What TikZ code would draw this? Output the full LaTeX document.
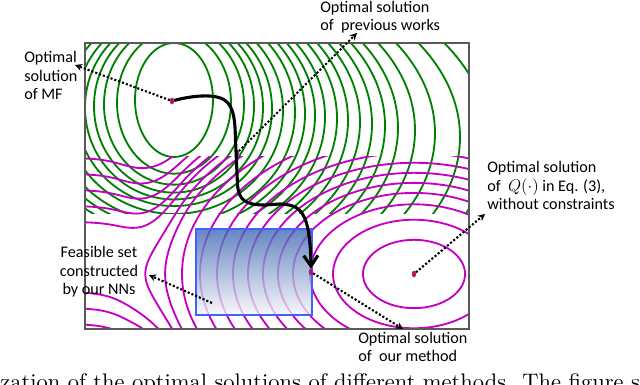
\documentclass[tikz,border=0pt]{standalone}
\usepackage{amsmath, amssymb}
\usepackage{fontspec}
\newfontfamily\calfont{Carlito}
\newfontfamily\capfont{lmroman10-regular.otf}
\usetikzlibrary{arrows.meta, positioning, shapes.geometric}
\definecolor{contgreen}{RGB}{0,128,0}
\definecolor{contmag}{RGB}{196,0,196}
\definecolor{setblue}{RGB}{64,96,255}
\definecolor{settop}{RGB}{60,100,180}
\definecolor{setbot}{RGB}{246,246,246}
\tikzstyle{note} = [font=\calfont\fontsize{11.5}{13.5}\selectfont, align=left, inner sep=0pt]
\tikzstyle{optpt} = [ellipse, draw=blue!70, fill=red, line width=0.4pt, inner sep=0pt, minimum width=2.8pt, minimum height=4.4pt]
\tikzstyle{pointer} = [line width=1.5pt, dash pattern=on 1.5pt off 1.4pt, -{Stealth[length=5pt, width=5pt]}]
\tikzstyle{route} = [line width=2.2pt, -{Straight Barb[length=2.6mm, width=3.6mm]}]
\tikzstyle{greenc} = [contgreen, line width=1.3pt]
\tikzstyle{magc} = [contmag, line width=1.3pt]

\begin{document}
\begin{tikzpicture}[x=0.25cm, y=0.25cm,
	declare function={
		phim(\d) = (\d < 23) ? \d*\d : 529 + 138*tanh((\d-23)/3);
		dinv(\p) = (\p < 529) ? sqrt(abs(\p)) : 23 + 1.5*ln((1 + max(\p-529,0)/138)/(1 - max(\p-529,0)/138));
		ycen(\x) = 11.1 + 1.7/(1 + exp(min((\x-12.5)/1.2, 9)));
	}]
		
		\useasboundingbox (0,0) rectangle (64,38.5);
		
		% contours of the MF objective
		\begin{scope}
			\clip (8.5,17.1) rectangle (46.9,34.2);
			\foreach \r in {3.9,5.7,7.0,8.0,8.9,9.8,10.9,12.1,13.1,14.1,15.1,16.3,17.4,18.6,19.8,21.1,22.4,24.1,26.1,28.6,31.5}
				\draw[greenc] (17.4,{28.5-0.15*(\r-3.9)}) ellipse ({\r} and {5.7*(\r/3.9)^0.58});
		\end{scope}
		
		% contours of Q
		\begin{scope}
			\clip (8.5,5.6) rectangle (46.9,22.8);
			\foreach \r in {5.1,8.1,10.4,12.1,13.6,15.1,16.6,18.1,19.7,21.4,23.2,24.62,25.45}
				\draw[magc] plot[domain=0:360, samples=145, smooth, variable=\t]
					({41.4-((cos(\t) < 0) ? -1 : 1)*dinv(\r*\r*cos(\t)*cos(\t))}, {11.1+0.67*\r*sin(\t)});
			\foreach \L in {694.3,724.9,767,820.5,885.3}
				\draw[magc] plot[domain=8.5:46.9, samples=90, smooth]
					(\x, {ycen(\x)+0.67*sqrt(\L-phim(41.4-\x))});
			\foreach \L in {694.3,724.9,767}
				\draw[magc] plot[domain=8.5:46.9, samples=90, smooth]
					(\x, {ycen(\x)-0.67*sqrt(\L-phim(41.4-\x))});
		\end{scope}
		
		% feasible set
		\shade[top color=settop, bottom color=setbot, fill opacity=0.78] (19.6,7.0) rectangle (31.2,15.6);
		\draw[setblue, line width=1.4pt] (19.6,7.0) rectangle (31.2,15.6);
		
		\draw[black!65, line width=1pt] (8.5,5.6) rectangle (46.9,34.2);
		
		\node[optpt] (mf) at (17.2,28.4) {};
		\node[optpt] (prev) at (23.7,23.2) {};
		\node[optpt] (ours) at (31.1,11.3) {};
		\node[optpt] (qopt) at (41.4,11.1) {};
		\coordinate (fs) at (21.2,8.2);
		
		\draw[route] (mf) .. controls (19.5,29.0) and (22.0,29.2) .. (22.8,28.2)
			.. controls (23.4,27.4) and (23.5,26.5) .. (23.55,24.5) -- (23.75,20.0)
			.. controls (23.9,18.5) and (24.5,18.0) .. (26.5,18.0) -- (28.0,18.1)
			.. controls (30.0,18.0) and (31.0,17.5) .. (ours.north);
		
		\node[note, anchor=base west] (mfnote) at (2.4,28.5) {Optimal\\solution\\of MF};
		\node[note, anchor=base west] (prevnote) at (32.0,35.4) {Optimal solution\\of\ \ previous works};
		\node[note, anchor=base west] (qnote) at (48.7,17.5) {Optimal solution\\of\ \ $Q(\cdot)$ in Eq. (3),\\without constraints};
		\node[note, anchor=base, align=center] (fsnote) at (9.9,9.0) {Feasible set\\constructed\\by our NNs};
		\node[note, anchor=base west] (oursnote) at (35.8,2.3) {Optimal solution\\of\ \ our method};
		
		\coordinate (mftip) at (7.5,32.0);
		\coordinate (prevtip) at (35.7,35.2);
		\coordinate (fstip) at (14.9,11.0);
		\coordinate (ourstip) at (40.3,5.6);
		\coordinate (qtip) at (48.5,17.1);
		
		\draw[pointer] (mf) -- (mftip);
		\draw[pointer] (prev) -- (prevtip);
		\draw[pointer] (fs) -- (fstip);
		\draw[pointer] (ours) -- (ourstip);
		\draw[pointer] (qopt) -- (qtip);
		
		\node[font=\capfont\fontsize{16}{19}\selectfont, anchor=base west, inner sep=0pt] (caption) at (0,-0.5) {zation of the optimal solutions of different methods. The figure s};
		
	\end{tikzpicture}
\end{document}
